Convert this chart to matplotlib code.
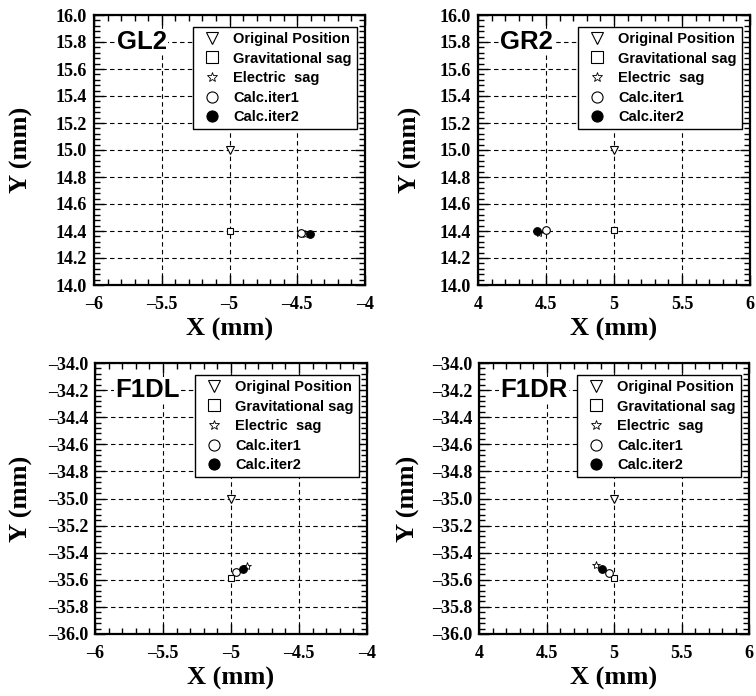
import matplotlib
matplotlib.use("Agg")
import matplotlib.pyplot as plt
from matplotlib.lines import Line2D
from matplotlib.ticker import MultipleLocator, FuncFormatter

# ---- data ----
panels = ["GL2", "GR2", "F1DL", "F1DR"]
xlims = [(-6, -4), (4, 6), (-6, -4), (4, 6)]
ylims = [(14.0, 16.0), (14.0, 16.0), (-36.0, -34.0), (-36.0, -34.0)]

orig_x = [-5.0, 5.0, -5.0, 5.0]
orig_y = [15.0, 15.0, -35.0, -35.0]
grav_x = [-5.0, 5.0, -5.0, 5.0]
grav_y = [14.40, 14.41, -35.59, -35.59]
elec_x = [-4.44, 4.45, -4.885, 4.864]
elec_y = [14.38, 14.385, -35.50, -35.494]
iter1_x = [-4.472, 4.498, -4.965, 4.963]
iter1_y = [14.383, 14.41, -35.545, -35.55]
iter2_x = [-4.406, 4.432, -4.914, 4.911]
iter2_y = [14.38, 14.40, -35.52, -35.523]

legend_labels = ["Original Position", "Gravitational sag", "Electric  sag",
                 "Calc.iter1", "Calc.iter2"]

W, H = 756, 696
fig = plt.figure(figsize=(W / 100, H / 100), dpi=100)

boxes = [(94, 15, 365, 285), (478, 15, 750, 285),
         (95, 363, 367, 634), (479, 363, 749, 634)]
label_x = [0.085, 0.081, 0.074, 0.08]
ylabel_x = [-0.225, -0.206, -0.228, -0.219]

serif = "Liberation Serif"
sans = "Liberation Sans"


def fmt_x(v, p):
    return ("%g" % round(v, 3)).replace("-", "\u2013")


def fmt_y(v, p):
    return ("%.1f" % v).replace("-", "\u2013")


for i, name in enumerate(panels):
    l, t, r, b = boxes[i]
    ax = fig.add_axes([l / W, 1 - b / H, (r - l) / W, (b - t) / H])
    ax.set_xlim(*xlims[i])
    ax.set_ylim(*ylims[i])
    ax.xaxis.set_major_locator(MultipleLocator(0.5))
    ax.xaxis.set_minor_locator(MultipleLocator(0.1))
    ax.yaxis.set_major_locator(MultipleLocator(0.2))
    ax.yaxis.set_minor_locator(MultipleLocator(0.04))
    ax.xaxis.set_major_formatter(FuncFormatter(fmt_x))
    ax.yaxis.set_major_formatter(FuncFormatter(fmt_y))
    ax.tick_params(which="both", direction="in", top=True, right=True,
                   width=1.0, colors="black")
    ax.tick_params(which="major", length=7, pad=5)
    ax.tick_params(which="minor", length=4)
    for lab in ax.get_xticklabels() + ax.get_yticklabels():
        lab.set_fontfamily(serif)
        lab.set_fontweight("bold")
        lab.set_fontsize(13)
    ax.tick_params(axis="x", pad=8)
    for s in ax.spines.values():
        s.set_linewidth(1.6)
    ax.grid(True, which="major", color="black", linestyle=(0, (4, 3)),
            linewidth=0.8)
    ax.set_axisbelow(True)

    ax.set_xlabel("X (mm)", fontfamily=serif, fontweight="bold", fontsize=19)
    ax.set_ylabel("Y (mm)", fontfamily=serif, fontweight="bold", fontsize=19)
    ax.xaxis.set_label_coords(0.5, -33 / (b - t))
    ax.yaxis.set_label_coords(ylabel_x[i], 0.5)

    kw = dict(linestyle="none", markeredgecolor="black", markeredgewidth=0.8)
    ax.plot(orig_x[i], orig_y[i], marker="v", markersize=5.5,
            markerfacecolor="white", **kw)
    ax.plot(grav_x[i], grav_y[i], marker="s", markersize=5,
            markerfacecolor="white", **kw)
    ax.plot(elec_x[i], elec_y[i], marker="*", markersize=6,
            markerfacecolor="white", markeredgecolor="black",
            markeredgewidth=0.6, linestyle="none")
    ax.plot(iter1_x[i], iter1_y[i], marker="o", markersize=5.5,
            markerfacecolor="white", **kw)
    ax.plot(iter2_x[i], iter2_y[i], marker="o", markersize=5.5,
            markerfacecolor="black", **kw)

    ax.text(label_x[i], 0.9, name, transform=ax.transAxes, ha="left",
            va="center", fontfamily=sans, fontweight="bold", fontsize=18.5,
            bbox=dict(facecolor="white", edgecolor="none", pad=1))

    handles = [
        Line2D([], [], marker="v", markersize=9, markerfacecolor="white", **kw),
        Line2D([], [], marker="s", markersize=8, markerfacecolor="white", **kw),
        Line2D([], [], marker="*", markersize=7, markerfacecolor="white",
               markeredgecolor="black", markeredgewidth=0.6, linestyle="none"),
        Line2D([], [], marker="o", markersize=8, markerfacecolor="white", **kw),
        Line2D([], [], marker="o", markersize=8, markerfacecolor="black", **kw),
    ]
    leg = ax.legend(handles, legend_labels, loc="upper right",
                    bbox_to_anchor=(0.9705, 0.956), borderaxespad=0,
                    prop=dict(family=sans, weight="bold", size=10.5),
                    fancybox=False, framealpha=1, edgecolor="black",
                    handlelength=1.9, handletextpad=0.5, labelspacing=0.38,
                    borderpad=0.35)
    leg.get_frame().set_linewidth(1.0)

fig.savefig("out.png", dpi=100)
